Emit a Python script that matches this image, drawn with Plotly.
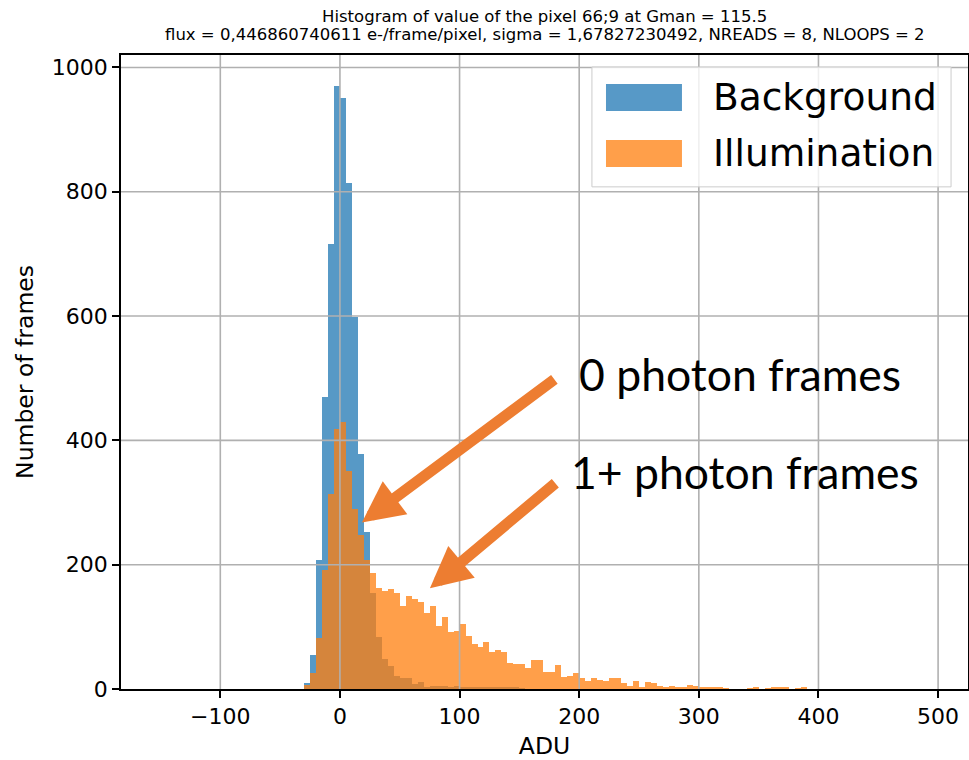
import plotly.graph_objects as go

# ---------------- data ----------------
bin_width = 5
bin_start = -30

background_counts = [
    10, 55, 208, 470, 716, 970, 951, 814, 598, 378,
    253, 155, 84, 49, 37, 21, 17, 17, 8, 11,
    3, 5, 5, 5, 3, 5, 3, 4, 3, 2,
    2, 4, 2, 2, 2, 2, 1,
]

illumination_counts = [
    6, 26, 82, 191, 313, 419, 430, 350, 290, 247,
    207, 186, 162, 158, 161, 155, 133, 150, 145, 140,
    122, 134, 101, 116, 91, 94, 105, 86, 72, 67,
    75, 59, 63, 60, 42, 40, 40, 34, 47, 46,
    28, 28, 38, 20, 21, 26, 17, 13, 17, 15,
    13, 18, 18, 9, 5, 13, 4, 12, 9, 5,
    4, 5, 4, 2, 7, 5, 2, 2, 4, 2,
    1, 0, 0, 0, 1, 2, 0, 1, 2, 4,
    2, 0, 1, 2,
]

bg_edges = [bin_start + i * bin_width for i in range(len(background_counts))]
il_edges = [bin_start + i * bin_width for i in range(len(illumination_counts))]

x_ticks = [-100, 0, 100, 200, 300, 400, 500]
x_ticklabels = ["\u2212100", "0", "100", "200", "300", "400", "500"]
y_ticks = [0, 200, 400, 600, 800, 1000]
y_ticklabels = ["0", "200", "400", "600", "800", "1000"]

series_names = ["Background", "Illumination"]
series_colors = ["#1f77b4", "#ff7f0e"]

title_lines = [
    "Histogram of value of the pixel 66;9 at Gman = 115.5",
    "flux = 0,446860740611 e-/frame/pixel, sigma = 1,67827230492, NREADS = 8, NLOOPS = 2",
]

# ---------------- figure ----------------
fig = go.Figure()
fig.add_trace(go.Bar(
    x=bg_edges, y=background_counts, width=bin_width, offset=0,
    name=series_names[0], marker=dict(color=series_colors[0], line=dict(width=0)),
    opacity=0.75, showlegend=False,
))
fig.add_trace(go.Bar(
    x=il_edges, y=illumination_counts, width=bin_width, offset=0,
    name=series_names[1], marker=dict(color=series_colors[1], line=dict(width=0)),
    opacity=0.75, showlegend=False,
))

grid_color = "#b0b0b0"
shapes = []
for xv in x_ticks:
    shapes.append(dict(type="line", xref="x", yref="paper", x0=xv, x1=xv, y0=0, y1=1,
                       line=dict(color=grid_color, width=1.6), layer="above"))
for yv in y_ticks[1:]:
    shapes.append(dict(type="line", xref="paper", yref="y", x0=0, x1=1, y0=yv, y1=yv,
                       line=dict(color=grid_color, width=1.6), layer="above"))

# legend (drawn manually to get matplotlib-size patches)
shapes.append(dict(type="rect", xref="paper", yref="paper", x0=0.556, x1=0.980, y0=0.792, y1=0.981,
                   fillcolor="rgba(255,255,255,0.8)", line=dict(color="#cccccc", width=1), layer="above"))
shapes.append(dict(type="rect", xref="paper", yref="paper", x0=0.5726, x1=0.6623, y0=0.9117, y1=0.9543,
                   fillcolor=series_colors[0], opacity=0.75, line=dict(width=0), layer="above"))
shapes.append(dict(type="rect", xref="paper", yref="paper", x0=0.5726, x1=0.6623, y0=0.8233, y1=0.8659,
                   fillcolor=series_colors[1], opacity=0.75, line=dict(width=0), layer="above"))

annotations = [
    # title lines
    dict(text=title_lines[0], xref="paper", yref="paper", x=0.5, y=1.0615,
         xanchor="center", yanchor="middle", showarrow=False,
         font=dict(family="DejaVu Sans", size=16.5, color="black")),
    dict(text=title_lines[1], xref="paper", yref="paper", x=0.5, y=1.0331,
         xanchor="center", yanchor="middle", showarrow=False,
         font=dict(family="DejaVu Sans", size=16.5, color="black")),
    # legend texts
    dict(text=series_names[0], xref="paper", yref="paper", x=0.6966, y=0.9338,
         xanchor="left", yanchor="middle", showarrow=False,
         font=dict(family="DejaVu Sans", size=37.5, color="black")),
    dict(text=series_names[1], xref="paper", yref="paper", x=0.6966, y=0.8454,
         xanchor="left", yanchor="middle", showarrow=False,
         font=dict(family="DejaVu Sans", size=37.5, color="black")),
    # callouts
    dict(text="0 photon frames", xref="paper", yref="paper", x=0.5385, y=0.4984,
         xanchor="left", yanchor="middle", showarrow=False,
         font=dict(family="Lato", size=44.5, color="black")),
    dict(text="1+ photon frames", xref="paper", yref="paper", x=0.5285, y=0.3423,
         xanchor="left", yanchor="middle", showarrow=False,
         font=dict(family="Lato", size=44.5, color="black")),
    dict(text="", x=18.4, y=268, ax=180.5, ay=500, xref="x", yref="y", axref="x", ayref="y",
         showarrow=True, arrowhead=2, arrowsize=0.75, arrowwidth=11, arrowcolor="#ed7d31"),
    dict(text="", x=75.2, y=162, ax=181.3, ay=333, xref="x", yref="y", axref="x", ayref="y",
         showarrow=True, arrowhead=2, arrowsize=0.75, arrowwidth=11, arrowcolor="#ed7d31"),
]

axis_common = dict(
    showgrid=False, zeroline=False, showline=True, linecolor="black", linewidth=1.6,
    mirror=True, ticks="outside", ticklen=7, tickwidth=1.6, tickcolor="black",
    tickfont=dict(family="DejaVu Sans", size=22, color="black"), automargin=False,
)

fig.update_layout(
    width=969, height=760,
    margin=dict(l=121, r=1, t=55, b=71),
    paper_bgcolor="white", plot_bgcolor="white",
    barmode="overlay", bargap=0,
    font=dict(family="DejaVu Sans", color="black"),
    xaxis=dict(range=[-183, 525], tickvals=x_ticks, ticktext=x_ticklabels,
               title=dict(text="ADU", font=dict(family="DejaVu Sans", size=23.5), standoff=9),
               **axis_common),
    yaxis=dict(range=[0, 1020], tickvals=y_ticks, ticktext=y_ticklabels,
               title=dict(text="Number of frames", font=dict(family="DejaVu Sans", size=23.5), standoff=12),
               **axis_common),
    shapes=shapes,
    annotations=annotations,
)

fig.write_html("out.html", config={"displayModeBar": False})
